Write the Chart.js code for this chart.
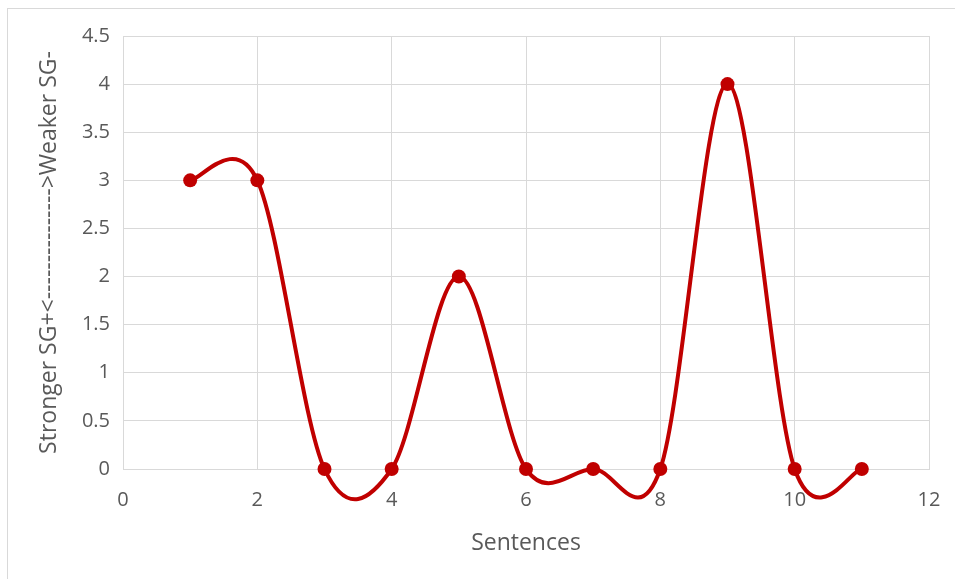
<!DOCTYPE html>
<html>
<head>
<meta charset="utf-8">
<script src="https://cdn.jsdelivr.net/npm/chart.js@4/dist/chart.umd.min.js"></script>
<style>
  html, body { margin: 0; padding: 0; background: #ffffff; }
  #wrap { position: relative; width: 955px; height: 579px; }
</style>
</head>
<body>
<div id="wrap"><canvas id="chart" width="955" height="579"></canvas></div>
<script>
// Sentence number and its signal-strength score
const sentences = [1, 2, 3, 4, 5, 6, 7, 8, 9, 10, 11];
const strength  = [3, 3, 0, 0, 2, 0, 0, 0, 4, 0, 0];

// Axis tick values
const xTickValues = [0, 2, 4, 6, 8, 10, 12];
const yTickValues = [0, 0.5, 1, 1.5, 2, 2.5, 3, 3.5, 4, 4.5];

const xTitle = 'Sentences';
const yTitle = 'Stronger SG+<--------------->Weaker SG-';

const LINE_RED = '#C00000';
const GRID = '#D9D9D9';
const TEXT = '#595959';
const FONT = '"Open Sans", "Liberation Sans", sans-serif';

// Smooth curve: Catmull-Rom style control points (one sixth of the neighbour span)
const smoothCurve = {
  id: 'smoothCurve',
  beforeDatasetDraw(chart, args) {
    const meta = args.meta;
    const line = meta.dataset;
    const pts = meta.data;
    if (line && typeof line.updateControlPoints === 'function') {
      line.updateControlPoints(chart.chartArea, meta.iScale.axis);
    }
    const n = pts.length;
    for (let i = 0; i < n; i++) {
      const p = pts[i];
      const prev = pts[Math.max(i - 1, 0)];
      const next = pts[Math.min(i + 1, n - 1)];
      const dx = (next.x - prev.x) / 6;
      const dy = (next.y - prev.y) / 6;
      p.cp1x = p.x - dx; p.cp1y = p.y - dy;
      p.cp2x = p.x + dx; p.cp2y = p.y + dy;
    }
  }
};

// Light frame around the whole chart
const frame = {
  id: 'frame',
  beforeDraw(chart) {
    const ctx = chart.ctx;
    ctx.save();
    ctx.fillStyle = '#ffffff';
    ctx.fillRect(0, 0, chart.width, chart.height);
    ctx.strokeStyle = GRID;
    ctx.lineWidth = 1;
    ctx.strokeRect(7.5, 8.5, chart.width + 10, chart.height + 10);
    ctx.restore();
  }
};

const plainNumber = v => String(v);

new Chart(document.getElementById('chart'), {
  type: 'scatter',
  data: {
    datasets: [{
      data: sentences.map((s, i) => ({ x: s, y: strength[i] })),
      showLine: true,
      borderColor: LINE_RED,
      backgroundColor: LINE_RED,
      borderWidth: 4,
      tension: 0.4,
      pointRadius: 7,
      pointBorderWidth: 0,
      pointBackgroundColor: LINE_RED,
      clip: false
    }]
  },
  options: {
    responsive: false,
    animation: false,
    events: [],
    elements: { line: { capBezierPoints: false } },
    layout: { padding: { top: 36, right: 26, left: 8, bottom: 0 } },
    plugins: {
      legend: { display: false },
      tooltip: { enabled: false }
    },
    scales: {
      x: {
        type: 'linear',
        min: 0, max: 12,
        afterBuildTicks(scale) { scale.ticks = xTickValues.map(v => ({ value: v })); },
        afterFit(scale) { scale.height = 110; scale.paddingLeft = 0; scale.paddingRight = 0; },
        grid: { color: GRID, lineWidth: 1, drawTicks: false },
        border: { color: GRID, width: 1 },
        ticks: { color: TEXT, padding: 19, font: { family: FONT, size: 20 }, callback: plainNumber },
        title: {
          display: true, text: xTitle, color: TEXT,
          font: { family: FONT, size: 23 }, padding: { top: 0, bottom: 22 }
        }
      },
      y: {
        type: 'linear',
        min: 0, max: 4.5,
        afterBuildTicks(scale) { scale.ticks = yTickValues.map(v => ({ value: v })); },
        afterFit(scale) { scale.width = 115; scale.paddingTop = 0; scale.paddingBottom = 0; },
        grid: { color: GRID, lineWidth: 1, drawTicks: false },
        border: { color: GRID, width: 1 },
        ticks: { color: TEXT, padding: 13, font: { family: FONT, size: 20 }, callback: plainNumber },
        title: {
          display: true, text: yTitle, color: TEXT,
          font: { family: FONT, size: 23 }, padding: { top: 28, bottom: 0 }
        }
      }
    }
  },
  plugins: [frame, smoothCurve]
});
</script>
</body>
</html>
